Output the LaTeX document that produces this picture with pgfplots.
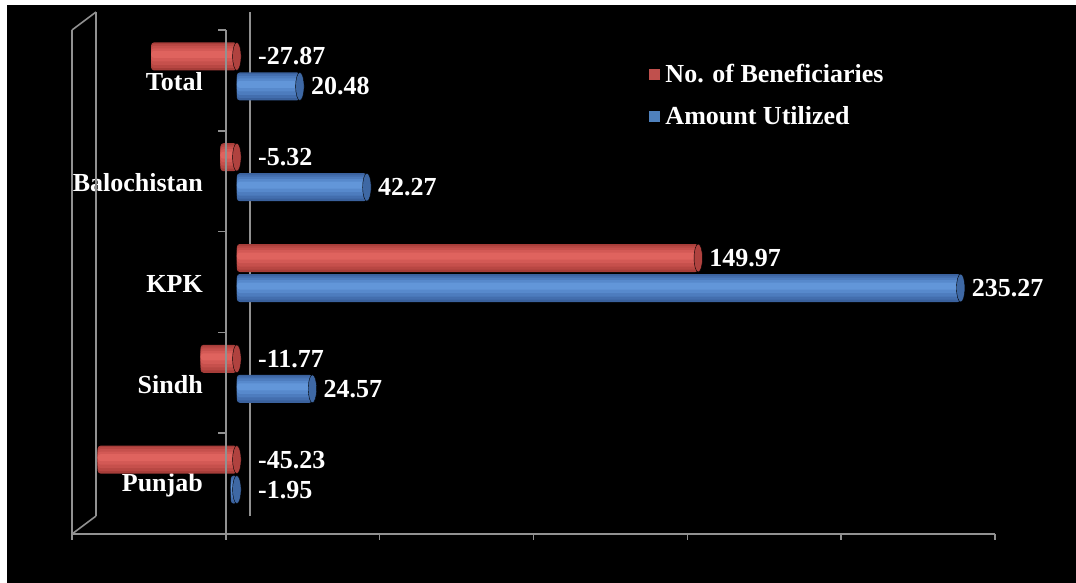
\documentclass[border=0pt]{standalone}
\usepackage{pgfplots}
\pgfplotsset{compat=1.18}
\usepackage{pgfplotstable}
\usepackage{fontspec}
\setmainfont{Liberation Serif}

% bar colours: bands of each cylinder from edge to highlight, and its end face
\definecolor{benred}{RGB}{192,80,77}
\definecolor{redA}{RGB}{166,61,57}
\definecolor{redB}{RGB}{184,71,67}
\definecolor{redC}{RGB}{198,80,76}
\definecolor{redD}{RGB}{211,89,85}
\definecolor{redE}{RGB}{223,99,94}
\definecolor{redcap}{RGB}{176,66,63}
\definecolor{amtblue}{RGB}{79,129,189}
\definecolor{blueA}{RGB}{58,97,157}
\definecolor{blueB}{RGB}{67,110,174}
\definecolor{blueC}{RGB}{77,124,190}
\definecolor{blueD}{RGB}{87,137,204}
\definecolor{blueE}{RGB}{98,150,217}
\definecolor{bluecap}{RGB}{62,104,164}
\definecolor{framegray}{RGB}{145,145,145}

% growth (%) by province: y position, beneficiaries, amount utilized
\pgfplotstableread{
y ben amt
0 -45.23 -1.95
1 -11.77 24.57
2 149.97 235.27
3 -5.32 42.27
4 -27.87 20.48
}\growth

\newcommand\bigbold{\fontsize{26}{30}\selectfont\bfseries}
\tikzset{frame/.style={draw=framegray, line width=1.6pt}}
\pgfplotsset{
  cyl/.style n args={3}{xbar, bar width=#1, bar shift=#2, draw=none, fill=#3,
                        rounded corners=3pt, forget plot},
}

\begin{document}
\begin{tikzpicture}
\path[use as bounding box] (0,0) rectangle (1076pt,-583pt);
\fill[white] (0,0) rectangle (1076pt,-583pt);
\fill[black] (7pt,-5pt) rectangle (1076pt,-583pt);
\begin{axis}[
  at={(83pt,-525pt)}, anchor=south west,
  scale only axis, width=923pt, height=504pt,
  xmin=-50, xmax=250, ymin=-0.5, ymax=4.5,
  clip=false,
  axis line style={draw=none},
  major tick style={draw=none},
  xtick=\empty,
  ytick={0,1,2,3,4},
  yticklabels={Punjab,Sindh,KPK,Balochistan,Total},
  yticklabel style={font=\bigbold, text=white, anchor=east, inner sep=0pt,
                    xshift=120pt, yshift=-10.5pt},
  legend image code/.code={\fill[#1] (0pt,-6pt) rectangle (12pt,6pt);},
  legend style={at={(0.612,0.917)}, anchor=north west, draw=none, fill=none,
                font=\bigbold, text=white, inner sep=0pt, row sep=21pt,
                nodes={inner xsep=5pt, inner ysep=1pt}},
  legend cell align=left,
]
% back wall of the frame
\draw[frame] ([shift={(13pt,9pt)}]axis cs:-50,-0.5) -- ([shift={(13pt,9pt)}]axis cs:-50,4.5);
\draw[frame] ([shift={(13pt,9pt)}]axis cs:0,-0.5) -- ([shift={(13pt,9pt)}]axis cs:0,4.5);
\draw[frame] ([shift={(-11pt,-9pt)}]axis cs:-50,4.5) -- ([shift={(13pt,9pt)}]axis cs:-50,4.5);
\draw[frame] ([shift={(-11pt,-9pt)}]axis cs:-50,-0.5) -- ([shift={(13pt,9pt)}]axis cs:-50,-0.5);
\draw[frame] ([shift={(-11pt,-9pt)}]axis cs:-50,-0.5) -- ([shift={(-11pt,-9pt)}]axis cs:-50,4.5);

% No. of Beneficiaries (cylinder built from bands)
\addplot[cyl={28pt}{15pt}{redA}] table[x=ben, y=y] {\growth};
\addplot[cyl={24pt}{15.5pt}{redB}] table[x=ben, y=y] {\growth};
\addplot[cyl={19pt}{16pt}{redC}] table[x=ben, y=y] {\growth};
\addplot[cyl={13pt}{16.5pt}{redD}] table[x=ben, y=y] {\growth};
\addplot[cyl={7pt}{17pt}{redE}] table[x=ben, y=y] {\growth};
\addplot[only marks, mark=*, mark size=14pt, forget plot,
  mark options={xscale=0.3, yshift=15pt, fill=redcap, draw=none}]
  table[x expr={max(\thisrow{ben},0)}, y=y] {\growth};
% Amount Utilized
\addplot[cyl={28pt}{-15pt}{blueA}] table[x=amt, y=y] {\growth};
\addplot[cyl={24pt}{-14.5pt}{blueB}] table[x=amt, y=y] {\growth};
\addplot[cyl={19pt}{-14pt}{blueC}] table[x=amt, y=y] {\growth};
\addplot[cyl={13pt}{-13.5pt}{blueD}] table[x=amt, y=y] {\growth};
\addplot[cyl={7pt}{-13pt}{blueE}] table[x=amt, y=y] {\growth};
\addplot[only marks, mark=*, mark size=14pt, forget plot,
  mark options={xscale=0.3, yshift=-15pt, fill=bluecap, draw=none}]
  table[x expr={max(\thisrow{amt},0)}, y=y] {\growth};

% value labels
\addplot[draw=none, forget plot, point meta=\thisrow{ben},
  nodes near coords={\pgfmathprintnumber[fixed, fixed zerofill, precision=2, assume math mode=true]{\pgfplotspointmeta}},
  every node near coord/.append style={font=\bigbold, text=white, anchor=west,
    inner sep=2pt, xshift=9pt, yshift=15pt}]
  table[x expr={\thisrow{ben}>0 ? \thisrow{ben} : 3.3}, y=y] {\growth};
\addplot[draw=none, forget plot, point meta=\thisrow{amt},
  nodes near coords={\pgfmathprintnumber[fixed, fixed zerofill, precision=2, assume math mode=true]{\pgfplotspointmeta}},
  every node near coord/.append style={font=\bigbold, text=white, anchor=west,
    inner sep=2pt, xshift=9pt, yshift=-15pt}]
  table[x expr={\thisrow{amt}>0 ? \thisrow{amt} : 3.3}, y=y] {\growth};

% front edges of the frame
\draw[frame] ([shift={(-11pt,-9pt)}]axis cs:-50,-0.5) -- ([shift={(-11pt,-9pt)}]axis cs:250,-0.5);
\draw[frame] ([shift={(-11pt,-9pt)}]axis cs:0,-0.5) -- ([shift={(-11pt,-9pt)}]axis cs:0,4.5);
\pgfplotsinvokeforeach{-50,0,50,100,150,200,250}{
  \draw[frame] ([shift={(-11pt,-9pt)}]axis cs:#1,-0.5) -- ([shift={(-11pt,-15pt)}]axis cs:#1,-0.5);
}
\pgfplotsinvokeforeach{-0.5,0.5,1.5,2.5,3.5,4.5}{
  \draw[frame] ([shift={(-11pt,-9pt)}]axis cs:0,#1) -- ([shift={(-19pt,-9pt)}]axis cs:0,#1);
}

\addlegendimage{fill=benred}
\addlegendentry{No. of Beneficiaries}
\addlegendimage{fill=amtblue}
\addlegendentry{Amount Utilized}
\end{axis}
\end{tikzpicture}
\end{document}
